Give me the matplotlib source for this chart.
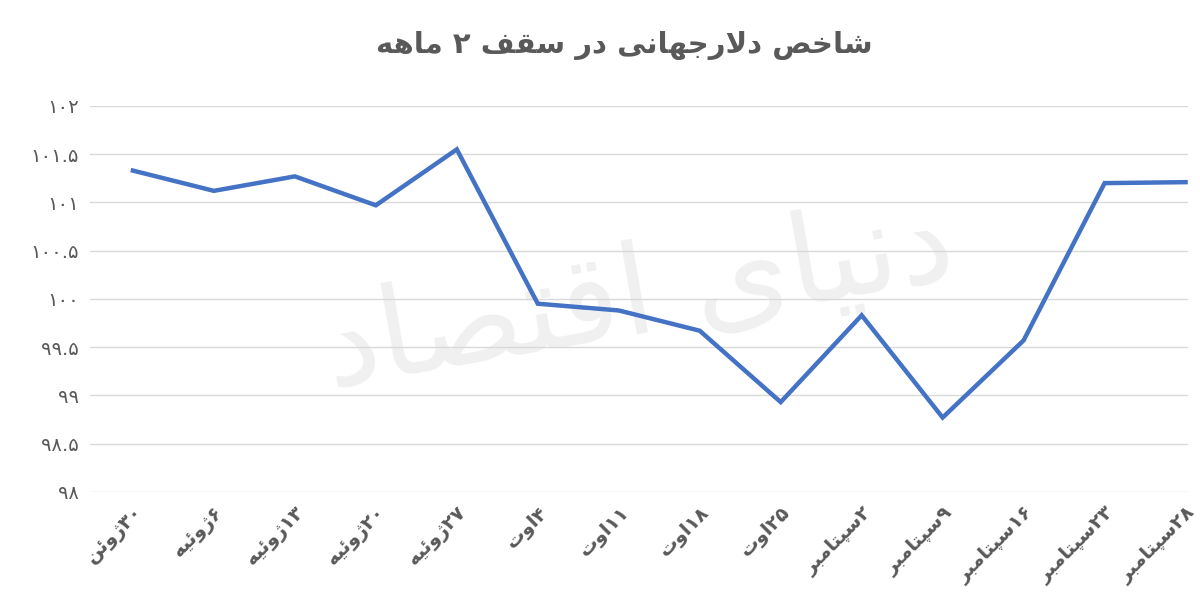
import matplotlib
matplotlib.use("Agg")
import matplotlib.pyplot as plt

title = "شاخص دلارجهانی در سقف ۲ ماهه"
watermark = "دنیای اقتصاد"
categories = ["۳۰ژوئن","۶ژوئیه","۱۳ژوئیه","۲۰ژوئیه","۲۷ژوئیه","۴اوت","۱۱اوت","۱۸اوت",
              "۲۵اوت","۲سپتامبر","۹سپتامبر","۱۶سپتامبر","۲۳سپتامبر","۲۸سپتامبر"]
values = [101.33, 101.12, 101.27, 100.97, 101.55, 99.95, 99.88, 99.67,
          98.93, 99.83, 98.77, 99.57, 101.2, 101.21]
yticks = [98, 98.5, 99, 99.5, 100, 100.5, 101, 101.5, 102]
ytick_labels = ["۹۸","۹۸.۵","۹۹","۹۹.۵","۱۰۰","۱۰۰.۵","۱۰۱","۱۰۱.۵","۱۰۲"]

# minimal Arabic/Persian shaping: (isolated, final, initial, medial)
FORMS = {
    'ا': (0xFE8D, 0xFE8E, None, None), 'د': (0xFEA9, 0xFEAA, None, None),
    'ر': (0xFEAD, 0xFEAE, None, None), 'و': (0xFEED, 0xFEEE, None, None),
    'ژ': (0xFB8A, 0xFB8B, None, None),
    'ب': (0xFE8F, 0xFE90, 0xFE91, 0xFE92), 'ت': (0xFE95, 0xFE96, 0xFE97, 0xFE98),
    'ج': (0xFE9D, 0xFE9E, 0xFE9F, 0xFEA0), 'خ': (0xFEA5, 0xFEA6, 0xFEA7, 0xFEA8),
    'س': (0xFEB1, 0xFEB2, 0xFEB3, 0xFEB4), 'ش': (0xFEB5, 0xFEB6, 0xFEB7, 0xFEB8),
    'ص': (0xFEB9, 0xFEBA, 0xFEBB, 0xFEBC), 'ف': (0xFED1, 0xFED2, 0xFED3, 0xFED4),
    'ق': (0xFED5, 0xFED6, 0xFED7, 0xFED8), 'ل': (0xFEDD, 0xFEDE, 0xFEDF, 0xFEE0),
    'م': (0xFEE1, 0xFEE2, 0xFEE3, 0xFEE4), 'ن': (0xFEE5, 0xFEE6, 0xFEE7, 0xFEE8),
    'ه': (0xFEE9, 0xFEEA, 0xFEEB, 0xFEEC), 'ئ': (0xFE89, 0xFE8A, 0xFE8B, 0xFE8C),
    'ی': (0xFBFC, 0xFBFD, 0xFBFE, 0xFBFF), 'پ': (0xFB56, 0xFB57, 0xFB58, 0xFB59),
}

def dual(c):
    return c in FORMS and FORMS[c][2] is not None

def shape_word(s):
    out = []
    i = 0
    n = len(s)
    while i < n:
        c = s[i]
        if c not in FORMS:
            out.append(c); i += 1; continue
        prev_join = i > 0 and dual(s[i-1])
        if c == 'ل' and i + 1 < n and s[i+1] == 'ا':
            out.append(chr(0xFEFC if prev_join else 0xFEFB)); i += 2; continue
        next_join = dual(c) and i + 1 < n and s[i+1] in FORMS
        iso, fin, ini, med = FORMS[c]
        if prev_join and next_join: f = med
        elif prev_join: f = fin
        elif next_join: f = ini
        else: f = iso
        out.append(chr(f)); i += 1
    return out

def rtl(s):
    shaped = shape_word(s)
    runs = []
    for ch in shaped:
        isnum = ch in "۰۱۲۳۴۵۶۷۸۹0123456789."
        if runs and runs[-1][0] == isnum:
            runs[-1][1].append(ch)
        else:
            runs.append([isnum, [ch]])
    parts = []
    for isnum, chars in reversed(runs):
        parts.append("".join(chars if isnum else reversed(chars)))
    return "".join(parts)

plt.rcParams['font.family'] = ['DejaVu Sans']
fig = plt.figure(figsize=(12, 6.02), dpi=100)
ax = fig.add_axes([0.075, 0.183, 0.915, 0.641])
x = list(range(len(categories)))
ax.plot(x, values, color="#4472C4", lw=3.2, solid_joinstyle="miter", zorder=3)
ax.set_ylim(98, 102)
ax.set_xlim(-0.53, len(categories) - 0.97)
ax.set_yticks(yticks)
ax.set_yticklabels([rtl(t) for t in ytick_labels], fontsize=14, color="#595959")
ax.set_xticks(x)
ax.set_xticklabels([rtl(c) for c in categories], rotation=45, ha="right",
                   rotation_mode="anchor", fontsize=14, color="#595959", fontweight="bold")
ax.grid(axis="y", color="#D9D9D9", lw=1)
ax.tick_params(length=0, pad=8)
for s in ax.spines.values():
    s.set_visible(False)
ax.text(0.5, 0.5, rtl(watermark), transform=ax.transAxes, fontsize=90, color="#F0F0F0",
        ha="center", va="center", rotation=10, zorder=0)
fig.text(0.52, 0.925, rtl(title), ha="center", va="center", fontsize=21,
         fontweight="bold", color="#595959")
fig.savefig("out.png", dpi=100)
